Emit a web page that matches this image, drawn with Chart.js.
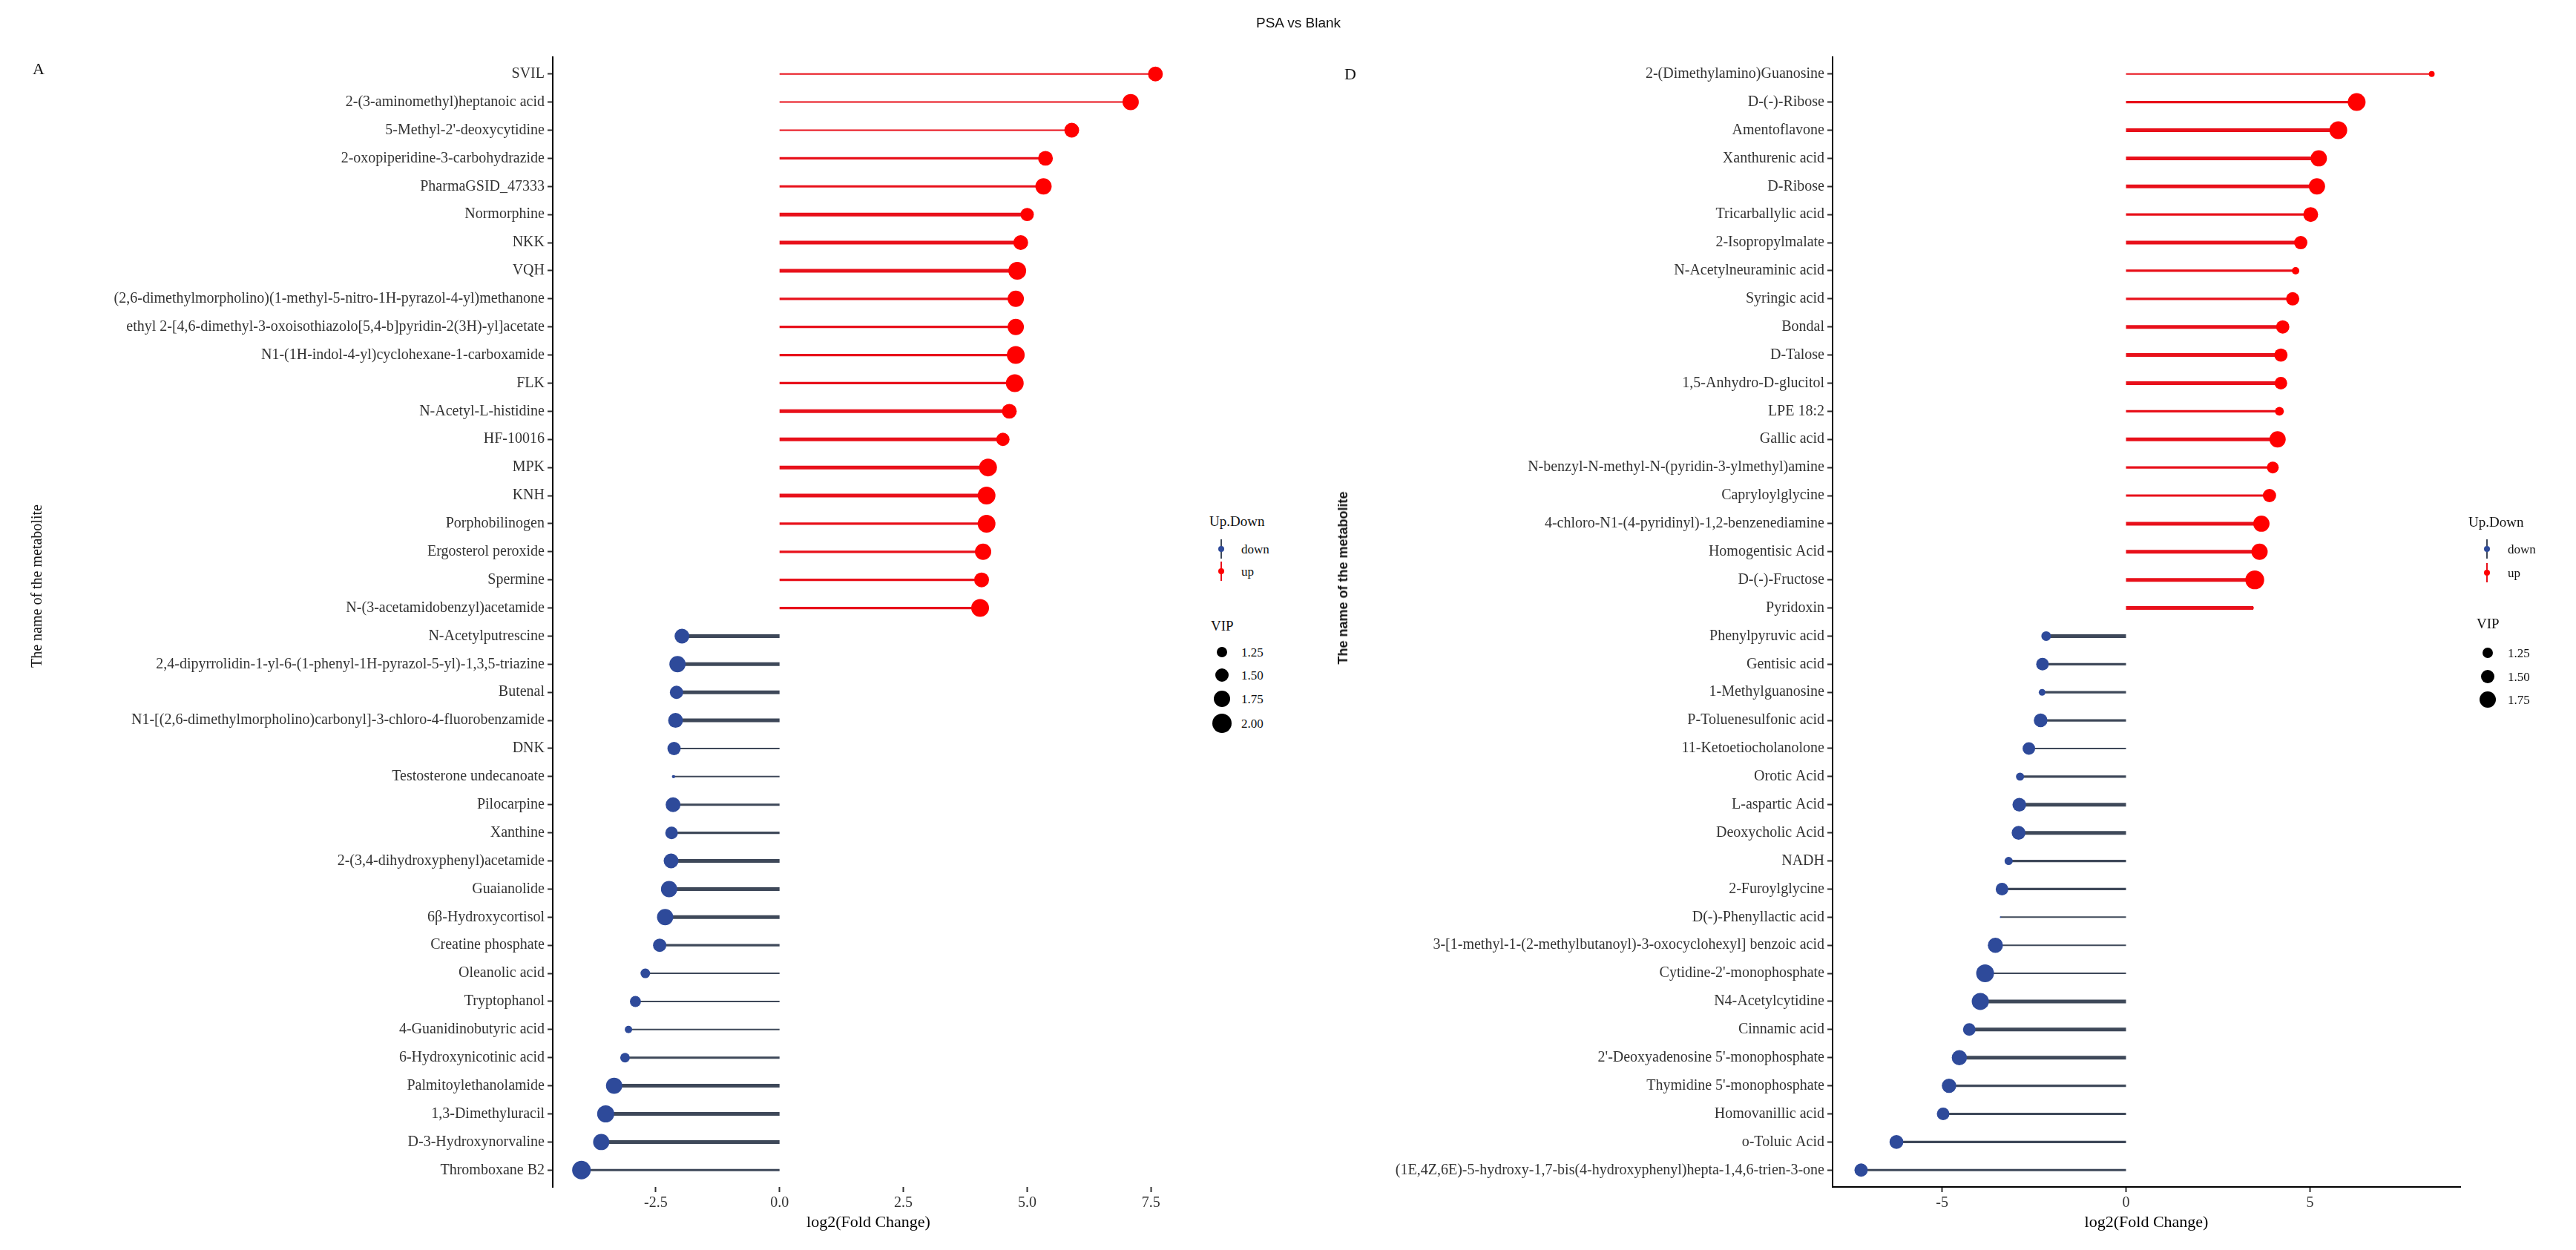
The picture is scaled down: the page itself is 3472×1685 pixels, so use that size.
<!DOCTYPE html>
<html><head><meta charset="utf-8">
<script src="https://cdn.jsdelivr.net/npm/chart.js@4.4.1/dist/chart.umd.min.js"></script>
<style>
html,body{margin:0;padding:0;background:#fff;width:3472px;height:1685px;overflow:hidden;}
#wrap{position:relative;width:3472px;height:1685px;background:#fff;}
canvas{position:absolute;top:0;}
.t{position:absolute;white-space:nowrap;font-family:"Liberation Serif","Times New Roman",serif;color:#111;line-height:1;}
.g{position:absolute;}
</style></head><body>
<div id="wrap">
<canvas id="cA" width="1610" height="1685" style="left:0;width:1610px;height:1685px;"></canvas>
<canvas id="cD" width="1600" height="1685" style="left:1735px;width:1600px;height:1685px;"></canvas>
</div>
<script>
// ---------------- data ----------------
const plotTitle = "PSA vs Blank";
const xTitle = "log2(Fold Change)";
const yTitle = "The name of the metabolite";

const namesA = ["SVIL","2-(3-aminomethyl)heptanoic acid","5-Methyl-2'-deoxycytidine","2-oxopiperidine-3-carbohydrazide","PharmaGSID_47333","Normorphine","NKK","VQH","(2,6-dimethylmorpholino)(1-methyl-5-nitro-1H-pyrazol-4-yl)methanone","ethyl 2-[4,6-dimethyl-3-oxoisothiazolo[5,4-b]pyridin-2(3H)-yl]acetate","N1-(1H-indol-4-yl)cyclohexane-1-carboxamide","FLK","N-Acetyl-L-histidine","HF-10016","MPK","KNH","Porphobilinogen","Ergosterol peroxide","Spermine","N-(3-acetamidobenzyl)acetamide","N-Acetylputrescine","2,4-dipyrrolidin-1-yl-6-(1-phenyl-1H-pyrazol-5-yl)-1,3,5-triazine","Butenal","N1-[(2,6-dimethylmorpholino)carbonyl]-3-chloro-4-fluorobenzamide","DNK","Testosterone undecanoate","Pilocarpine","Xanthine","2-(3,4-dihydroxyphenyl)acetamide","Guaianolide","6β-Hydroxycortisol","Creatine phosphate","Oleanolic acid","Tryptophanol","4-Guanidinobutyric acid","6-Hydroxynicotinic acid","Palmitoylethanolamide","1,3-Dimethyluracil","D-3-Hydroxynorvaline","Thromboxane B2"];
const log2fcA = [7.59,7.09,5.90,5.37,5.33,5.00,4.87,4.80,4.77,4.77,4.77,4.75,4.64,4.51,4.21,4.18,4.18,4.11,4.08,4.05,-1.97,-2.06,-2.08,-2.10,-2.13,-2.14,-2.15,-2.18,-2.19,-2.23,-2.31,-2.42,-2.71,-2.91,-3.05,-3.12,-3.34,-3.51,-3.60,-4.00];
const vipA = [1.56,1.69,1.56,1.56,1.69,1.44,1.56,1.84,1.69,1.69,1.84,1.84,1.56,1.44,1.84,1.84,1.84,1.69,1.56,1.84,1.56,1.69,1.44,1.56,1.44,1.01,1.56,1.39,1.56,1.69,1.69,1.44,1.21,1.29,1.11,1.21,1.69,1.77,1.69,1.92];
const negLogPA = [1,1,1,2,2,3,3,3,2,2,2,2,3,3,3,3,2,2,2,2,3,3,3,3,1,1,2,2,3,3,3,2,1,1,1,2,3,3,3,2];
const xTicksA = [-2.5,0,2.5,5,7.5];
const xTickLabelsA = ["-2.5","0.0","2.5","5.0","7.5"];
const vipLegendA = [1.25,1.50,1.75,2.00];
const vipLegendLabelsA = ["1.25","1.50","1.75","2.00"];

const namesD = ["2-(Dimethylamino)Guanosine","D-(-)-Ribose","Amentoflavone","Xanthurenic acid","D-Ribose","Tricarballylic acid","2-Isopropylmalate","N-Acetylneuraminic acid","Syringic acid","Bondal","D-Talose","1,5-Anhydro-D-glucitol","LPE 18:2","Gallic acid","N-benzyl-N-methyl-N-(pyridin-3-ylmethyl)amine","Capryloylglycine","4-chloro-N1-(4-pyridinyl)-1,2-benzenediamine","Homogentisic Acid","D-(-)-Fructose","Pyridoxin","Phenylpyruvic acid","Gentisic acid","1-Methylguanosine","P-Toluenesulfonic acid","11-Ketoetiocholanolone","Orotic Acid","L-aspartic Acid","Deoxycholic Acid","NADH","2-Furoylglycine","D(-)-Phenyllactic acid","3-[1-methyl-1-(2-methylbutanoyl)-3-oxocyclohexyl] benzoic acid","Cytidine-2'-monophosphate","N4-Acetylcytidine","Cinnamic acid","2'-Deoxyadenosine 5'-monophosphate","Thymidine 5'-monophosphate","Homovanillic acid","o-Toluic Acid","(1E,4Z,6E)-5-hydroxy-1,7-bis(4-hydroxyphenyl)hepta-1,4,6-trien-3-one"];
const log2fcD = [8.31,6.27,5.77,5.24,5.19,5.02,4.75,4.61,4.53,4.26,4.21,4.21,4.17,4.12,3.99,3.90,3.68,3.63,3.50,3.46,-2.17,-2.27,-2.28,-2.32,-2.64,-2.88,-2.90,-2.92,-3.19,-3.37,-3.41,-3.55,-3.83,-3.96,-4.26,-4.53,-4.81,-4.97,-6.24,-7.20];
const vipD = [1.06,1.84,1.84,1.69,1.69,1.56,1.44,1.11,1.44,1.44,1.44,1.39,1.17,1.69,1.34,1.44,1.69,1.69,1.95,1.0,1.21,1.39,1.085,1.47,1.39,1.14,1.47,1.48,1.14,1.39,1.0,1.59,1.84,1.77,1.39,1.59,1.53,1.39,1.48,1.44];
const negLogPD = [1,2,3,3,3,2,3,2,2,3,3,3,2,3,2,2,3,3,3,3,3,2,2,2,1,2,3,3,2,2,1,1,1,3,3,3,2,2,2,2];
const xTicksD = [-5,0,5];
const xTickLabelsD = ["-5","0","5"];
const vipLegendD = [1.25,1.50,1.75];
const vipLegendLabelsD = ["1.25","1.50","1.75"];

const directionLabels = ["down","up"];

// ---------------- styles ----------------
const UP_DOT = "#ff0000", UP_LINE = "#e8101a";
const DOWN_DOT = "#2e4a9a", DOWN_LINE = "#3e4859";
const SERIF = "'Liberation Serif','Times New Roman',serif";
function vipDiameter(v){ return 2 + 24*Math.sqrt(Math.max(v-1,0)); }
function lineWidthFor(p){ return p===1 ? 2 : (p===2 ? 3.2 : 5); }

function makeChart(id, names, fc, vip, nlp, xticks, xlabels, showXLine, yAxisWidth, padRight) {
  const n = names.length;
  const lo = Math.min(0, ...fc), hi = Math.max(0, ...fc);
  const ex = (hi - lo) * 0.05;
  const segs = fc.map((v, i) => ({
    type: 'scatter', showLine: true, order: 2,
    data: [{x: 0, y: i}, {x: v, y: i}],
    borderColor: v > 0 ? UP_LINE : DOWN_LINE,
    borderWidth: lineWidthFor(nlp[i]),
    borderCapStyle: 'butt',
    pointRadius: 0, pointHoverRadius: 0
  }));
  const pts = {
    type: 'scatter', order: 1, showLine: false,
    data: fc.map((v, i) => ({x: v, y: i})),
    pointRadius: c => vipDiameter(vip[c.dataIndex]) / 2,
    pointHoverRadius: c => vipDiameter(vip[c.dataIndex]) / 2,
    pointBackgroundColor: c => fc[c.dataIndex] > 0 ? UP_DOT : DOWN_DOT,
    pointBorderWidth: 0, pointBorderColor: 'rgba(0,0,0,0)'
  };
  return new Chart(document.getElementById(id), {
    type: 'scatter',
    data: {datasets: [pts, ...segs]},
    options: {
      responsive: false, animation: false, devicePixelRatio: 1,
      layout: {padding: {left: 0, right: padRight, top: 77, bottom: 0}},
      plugins: {legend: {display: false}, tooltip: {enabled: false}},
      scales: {
        x: {
          type: 'linear', min: lo - ex, max: hi + ex,
          afterBuildTicks: s => { s.ticks = xticks.map(v => ({value: v})); },
          afterFit: s => { s.height = 85; },
          grid: {display: true, drawOnChartArea: false, drawTicks: true, tickLength: 7, tickWidth: 2, tickColor: '#333'},
          border: {display: showXLine, color: '#000', width: 2},
          ticks: {autoSkip: false, maxRotation: 0, font: {family: SERIF, size: 20}, color: '#333', padding: 3,
                  callback: (v, i) => xlabels[i]},
          title: {display: true, text: xTitle, color: '#000', font: {family: SERIF, size: 22}, padding: {top: 0, bottom: 24}}
        },
        y: {
          type: 'linear', reverse: true, min: -0.6, max: n - 1 + 0.6,
          afterBuildTicks: s => { s.ticks = names.map((_, i) => ({value: i})); },
          afterFit: s => { s.width = yAxisWidth; },
          grid: {display: true, drawOnChartArea: false, drawTicks: true, tickLength: 7, tickWidth: 2, tickColor: '#333'},
          border: {display: true, color: '#000', width: 2},
          ticks: {autoSkip: false, font: {family: SERIF, size: 20}, color: '#333', padding: 4,
                  callback: v => names[v]}
        }
      }
    }
  });
}

makeChart('cA', namesA, log2fcA, vipA, negLogPA, xTicksA, xTickLabelsA, false, 745, 14);
makeChart('cD', namesD, log2fcD, vipD, negLogPD, xTicksD, xTickLabelsD, true, 735, 19);

// ---------------- HTML text / legends ----------------
const wrap = document.getElementById('wrap');
function txt(s, x, y, size, opts) {
  opts = opts || {};
  const d = document.createElement('div');
  d.className = 't';
  d.textContent = s;
  d.style.left = x + 'px'; d.style.top = y + 'px';
  d.style.fontSize = size + 'px';
  if (opts.family) d.style.fontFamily = opts.family;
  if (opts.weight) d.style.fontWeight = opts.weight;
  let tr = opts.center ? 'translate(-50%,-50%)' : 'translate(0,-50%)';
  if (opts.rotate) tr = 'translate(-50%,-50%) rotate(-90deg)';
  d.style.transform = tr;
  wrap.appendChild(d);
  return d;
}
function box(x, y, w, h, color, radius) {
  const d = document.createElement('div');
  d.className = 'g';
  d.style.left = (x - w/2) + 'px'; d.style.top = (y - h/2) + 'px';
  d.style.width = w + 'px'; d.style.height = h + 'px';
  d.style.background = color;
  if (radius) d.style.borderRadius = '50%';
  wrap.appendChild(d);
}

txt(plotTitle, 1750, 30, 19, {center: true, family: "'Liberation Sans',Arial,sans-serif"});
txt("A", 52, 93, 22, {center: true});
txt("D", 1820, 100, 22, {center: true});
txt(yTitle, 49, 790, 20, {rotate: true});
txt(yTitle, 1810, 779, 18, {rotate: true, family: "'Liberation Sans',Arial,sans-serif", weight: 'bold'});

function legend(x0, titleX, glyphX, labelX, yTitle1, yItems, yVipTitle, vipTitleX, vipYs, vipVals, vipLabels) {
  txt("Up.Down", titleX, yTitle1, 19);
  const cols = [[DOWN_LINE, DOWN_DOT], [UP_LINE, UP_DOT]];
  directionLabels.forEach((lab, k) => {
    box(glyphX, yItems[k], 2.5, 26, cols[k][0]);
    box(glyphX, yItems[k], 8, 8, cols[k][1], true);
    txt(lab, labelX, yItems[k], 17);
  });
  txt("VIP", vipTitleX, yVipTitle, 19);
  vipVals.forEach((v, k) => {
    const d = vipDiameter(v);
    box(glyphX + 1, vipYs[k], d, d, '#000', true);
    txt(vipLabels[k], labelX, vipYs[k], 17);
  });
}
legend(0, 1630, 1646, 1673, 702, [740, 770], 843, 1632, [879, 910, 942, 975], vipLegendA, vipLegendLabelsA);
legend(0, 3327, 3352, 3380, 703, [740, 772], 840, 3338, [880, 912, 943], vipLegendD, vipLegendLabelsD);
</script>
</body></html>
